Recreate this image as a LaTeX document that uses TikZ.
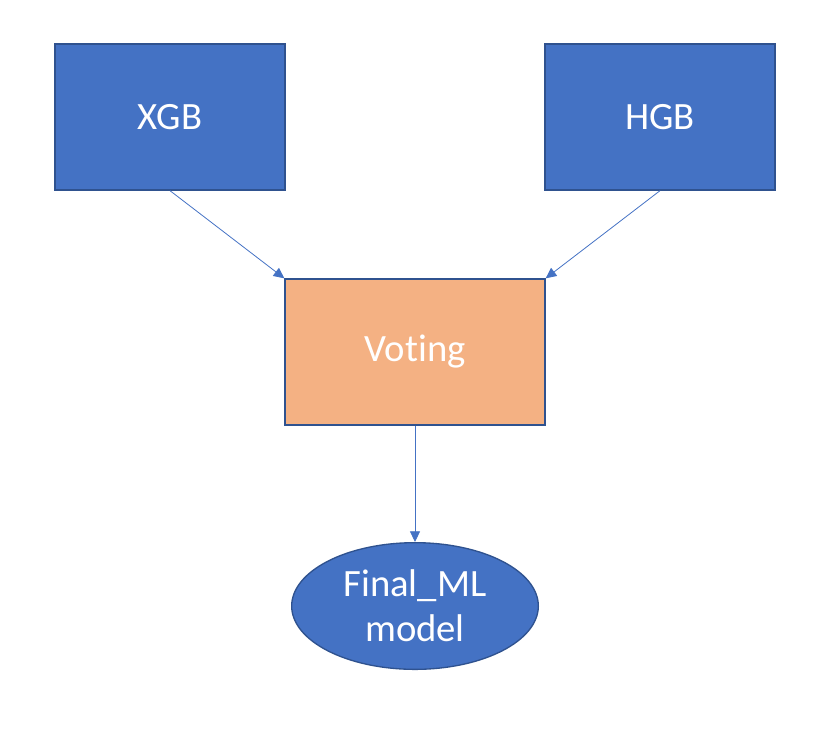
\documentclass[tikz,border=0pt]{standalone}
\usepackage{fontspec}
\setmainfont{Carlito}[Ligatures=NoCommon]
\usetikzlibrary{shapes.geometric,arrows.meta}
\definecolor{boxblue}{HTML}{4472C4}
\definecolor{edgeblue}{HTML}{2F528F}
\definecolor{boxorange}{HTML}{F4B183}

\begin{document}
\begin{tikzpicture}[x=0.75pt,y=-0.75pt,
  model/.style={draw=edgeblue,line width=1pt,fill=boxblue,text=white,
    minimum width=172.5pt,minimum height=109.5pt,font=\fontsize{29}{34}\selectfont},
  vote/.style={model,fill=boxorange,minimum width=195pt},
  result/.style={ellipse,draw=edgeblue,line width=1pt,fill=boxblue,text=white,
    minimum width=185pt,minimum height=95pt,inner sep=0pt,align=center,
    font=\fontsize{29}{34}\selectfont},
  link/.style={draw=boxblue,line width=0.6pt,-{Triangle[length=8pt,width=7.5pt]}}]
\useasboundingbox (0,0) rectangle (837,733);
\node[model] (xgb) at (170,117) {XGB};
\node[model] (hgb) at (660,117) {HGB};
\node[vote] (voting) at (415,352) {Voting};
\node[result] (final) at (415,606) {Final\_ML\\model};
% arrows into the voting box
\draw[link] (xgb.south) -- (voting.north west);
\draw[link] (hgb.south) -- (voting.north east);
% voting to final model
\draw[link] (voting.south) -- (final.north);
\end{tikzpicture}
\end{document}
